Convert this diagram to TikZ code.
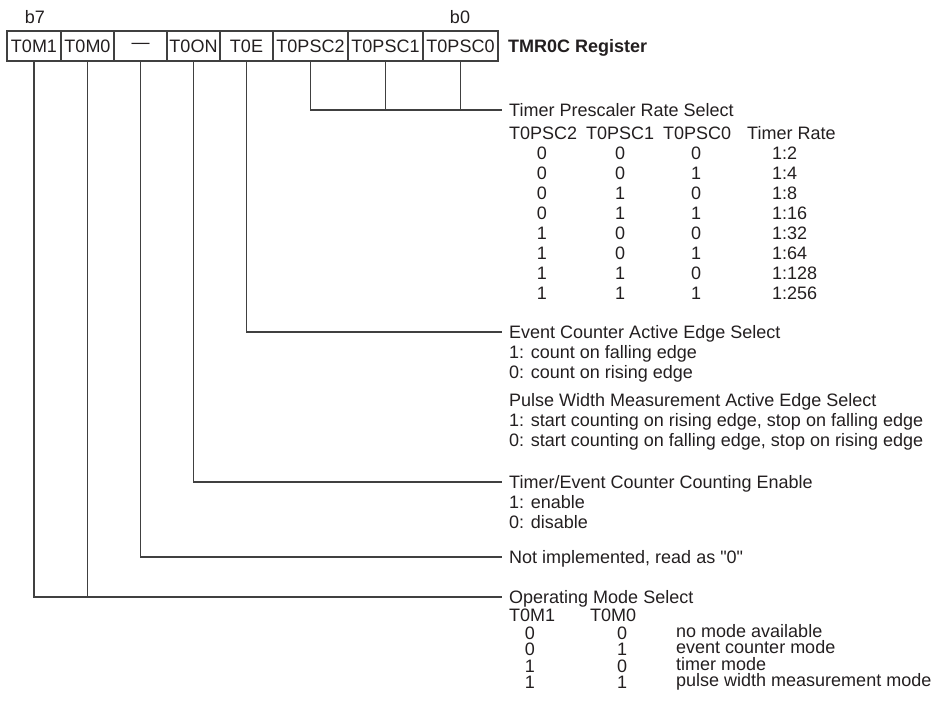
\documentclass[tikz,border=0pt]{standalone}
\usepackage{fontspec}
\newfontfamily\regfont{Liberation Sans}
\usetikzlibrary{positioning}
\definecolor{regink}{RGB}{35,31,32}
\definecolor{wiregray}{RGB}{64,64,64}

\begin{document}
\begin{tikzpicture}[x=1pt,y=-1pt,font=\regfont\fontsize{18}{20}\selectfont,text=regink,
 cell/.style={draw=wiregray,line width=1.2pt,minimum height=30pt,inner sep=0pt,outer sep=0pt,anchor=north west},
 txt/.style={anchor=west,inner sep=0pt,text height=12.9pt,text depth=0pt},
 title/.style={txt,inner xsep=7pt},
 val/.style={txt,anchor=center},
 wire/.style={draw=wiregray,line width=1.4pt}]
\useasboundingbox (0,0) rectangle (943,714);
% register cells, b7 ... b0
\node[cell,minimum width=54pt] (m1) at (7,31) {T0M1};
\node[cell,minimum width=53pt,right=0pt of m1] (m0) {T0M0};
\node[cell,minimum width=53pt,right=0pt of m0] (nc) {—};
\node[cell,minimum width=53pt,right=0pt of nc] (t0on) {T0ON};
\node[cell,minimum width=53pt,right=0pt of t0on] (t0e) {T0E};
\node[cell,minimum width=75pt,right=0pt of t0e] (psc2) {T0PSC2};
\node[cell,minimum width=75pt,right=0pt of psc2] (psc1) {T0PSC1};
\node[cell,minimum width=75pt,right=0pt of psc1] (psc0) {T0PSC0};
\node[val] (b7) at (35,17) {b7};
\node[val] (b0) at (460,17) {b0};
\node[txt,font=\regfont\fontsize{18}{20}\selectfont\bfseries] (regname) at (508,46) {TMR0C Register};

% prescaler
\node[title] (presc) at (502,110) {Timer Prescaler Rate Select};
\foreach \h/\x in {T0PSC2/509,T0PSC1/586,T0PSC0/663,Timer Rate/747}
 \node[txt] (hd\x) at (\x,133) {\h};
\foreach \a/\b/\c/\r [count=\i from 0] in {0/0/0/1:2,0/0/1/1:4,0/1/0/1:8,0/1/1/1:16,1/0/0/1:32,1/0/1/1:64,1/1/0/1:128,1/1/1/1:256} {
 \node[val] (pa\i) at (542,{153+20*\i}) {\a};
 \node[val] (pb\i) at (620,{153+20*\i}) {\b};
 \node[val] (pc\i) at (696,{153+20*\i}) {\c};
 \node[txt] (pr\i) at (772,{153+20*\i}) {\r};
}

% edge select
\node[title] (evsel) at (502,332) {Event Counter Active Edge Select};
\node[txt] (evone) at (509,352) {1: count on falling edge};
\node[txt] (evzero) at (509,372) {0: count on rising edge};
\node[txt] (pwsel) at (509,400) {Pulse Width Measurement Active Edge Select};
\node[txt] (pwone) at (509,420) {1: start counting on rising edge, stop on falling edge};
\node[txt] (pwzero) at (509,440) {0: start counting on falling edge, stop on rising edge};

% counting enable
\node[title] (cnten) at (502,482) {Timer/Event Counter Counting Enable};
\node[txt] (cnone) at (509,502) {1: enable};
\node[txt] (cnzero) at (509,522) {0: disable};

\node[title] (notimp) at (502,557) {Not implemented, read as "0"};

% operating mode
\node[title] (opmode) at (502,597) {Operating Mode Select};
\node[txt] (hm1) at (509,615) {T0M1};
\node[txt] (hm0) at (590,615) {T0M0};
\foreach \a/\b/\d [count=\i from 0] in {0/0/no mode available,0/1/event counter mode,1/0/timer mode,1/1/pulse width measurement mode} {
 \node[val] (ma\i) at (530,{633+16.5*\i}) {\a};
 \node[val] (mb\i) at (622,{633+16.5*\i}) {\b};
 \node[txt] (md\i) at (676,{631+16.5*\i}) {\d};
}

% connectors
\draw[wire] (psc2.south) |- (presc.west);
\draw[wire] (psc1.south) -- (psc1.south |- presc.west);
\draw[wire] (psc0.south) -- (psc0.south |- presc.west);
\draw[wire] (t0e.south) |- (evsel.west);
\draw[wire] (t0on.south) |- (cnten.west);
\draw[wire] (nc.south) |- (notimp.west);
\draw[wire] (m1.south) |- (opmode.west);
\draw[wire] (m0.south) -- (m0.south |- opmode.west);
\end{tikzpicture}
\end{document}
